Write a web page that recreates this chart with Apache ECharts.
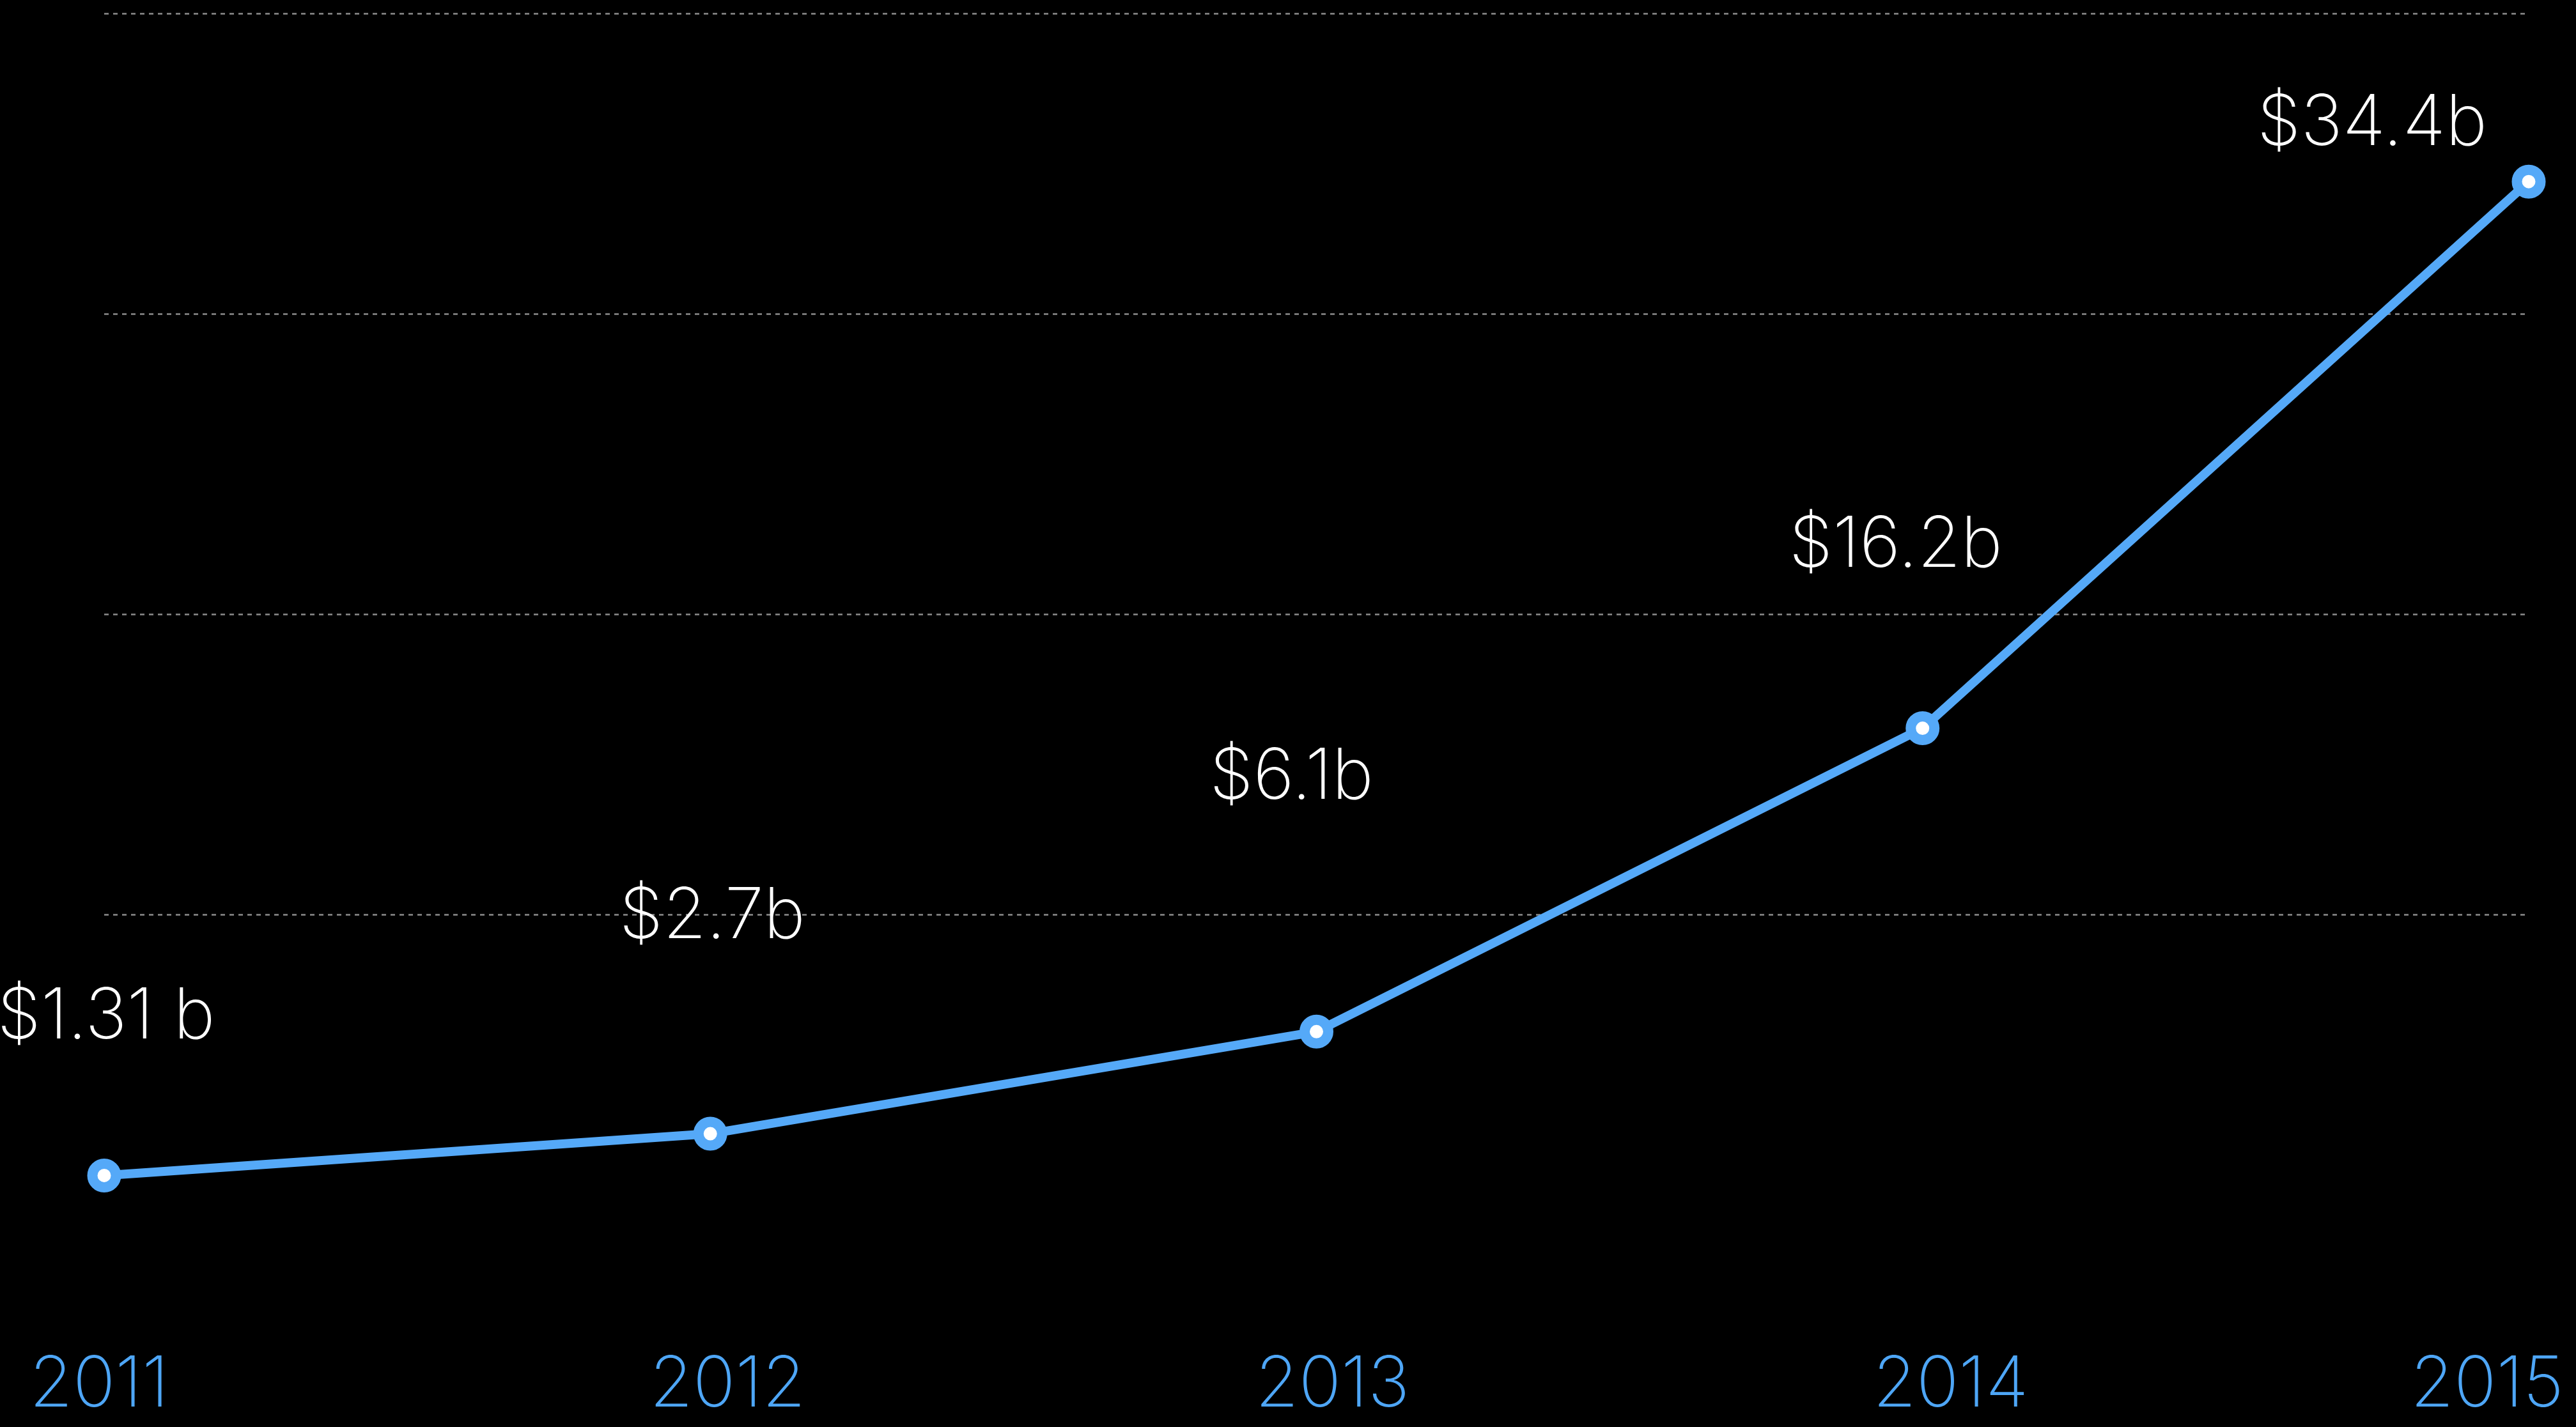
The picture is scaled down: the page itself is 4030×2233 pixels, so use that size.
<!DOCTYPE html>
<html>
<head>
<meta charset="utf-8">
<script src="https://cdn.jsdelivr.net/npm/echarts@6/dist/echarts.min.js"></script>
<style>
html,body{margin:0;padding:0;background:#000;}
#c{width:4030px;height:2233px;}
</style>
</head>
<body>
<div id="c"></div>
<script>
// data
const years = ['2011', '2012', '2013', '2014', '2015'];
const revenue = [1.31, 2.7, 6.1, 16.2, 34.4];
const valueLabels = ['$1.31 b', '$2.7b', '$6.1b', '$16.2b', '$34.4b'];

// layout nudges (style only)
const labelNudges = [[3, -248], [3, -339], [-39, -397], [-42, -286], [-245, -90]];
const yearPads = [[0, 16, 0, 0], [0, 0, 0, 54], [0, 0, 0, 50], [0, 0, 0, 88], [0, 130, 0, 0]];

const FONT = 'Inter';
const BLUE = '#55a9f8';
const FS = 110;

const rich = {};
yearPads.forEach((p, i) => {
  rich['y' + i] = {
    fontFamily: FONT, fontWeight: 200, fontSize: FS, color: '#4ea6f6',
    padding: [0, p[1], 0, p[3]]
  };
});

const chart = echarts.init(document.getElementById('c'));
chart.setOption({
  backgroundColor: '#000',
  animation: false,
  grid: { left: 163, right: 74, top: 21, bottom: 332 },
  xAxis: {
    type: 'category',
    data: years,
    boundaryGap: false,
    axisLine: { show: false },
    axisTick: { show: false },
    splitLine: { show: false },
    axisLabel: {
      margin: 212,
      interval: 0,
      formatter: (v, i) => '{y' + i + '|' + v + '}',
      rich: rich
    }
  },
  yAxis: {
    type: 'value',
    min: 0, max: 40, interval: 10,
    axisLine: { show: false },
    axisTick: { show: false },
    axisLabel: { show: false },
    splitLine: {
      show: true,
      lineStyle: {
        color: ['rgba(0,0,0,0)', '#8c8c8c', '#8c8c8c', '#8c8c8c', '#8c8c8c'],
        width: 2.5,
        type: [7, 7]
      }
    }
  },
  series: [{
    type: 'line',
    data: revenue.map((v, i) => ({
      value: v,
      label: {
        show: true,
        position: 'inside',
        offset: labelNudges[i],
        formatter: valueLabels[i]
      }
    })),
    symbol: 'circle',
    symbolSize: 37,
    showAllSymbol: true,
    lineStyle: { color: BLUE, width: 14 },
    itemStyle: { color: '#fff', borderColor: BLUE, borderWidth: 16 },
    label: {
      color: '#fff',
      fontFamily: FONT,
      fontWeight: 200,
      fontSize: FS,
      align: 'center',
      verticalAlign: 'middle'
    },
    z: 3
  }]
});
</script>
</body>
</html>
